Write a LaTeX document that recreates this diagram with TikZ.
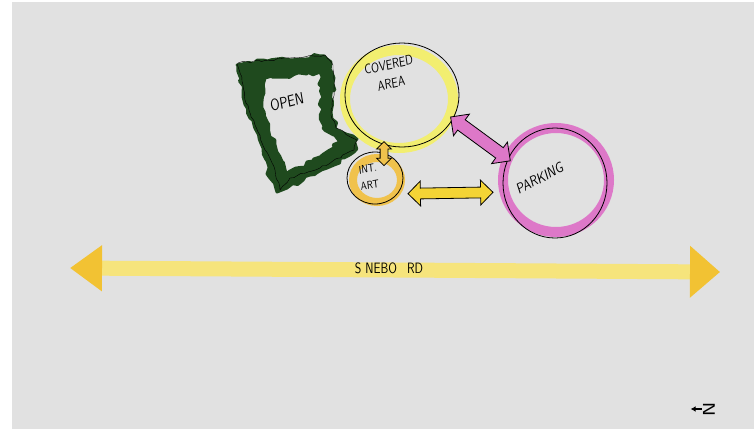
\documentclass[tikz,border=0pt]{standalone}
\usepackage{amsmath}
\usepackage{xcolor}
\usepackage{tikz}
\usetikzlibrary{shapes.geometric, shapes.arrows, arrows.meta, decorations.pathmorphing}
\definecolor{paper}{HTML}{E1E1E1}
\definecolor{opengreen}{HTML}{1F4A1E}
\definecolor{covyellow}{HTML}{F2EE70}
\definecolor{artorange}{HTML}{F0C24C}
\definecolor{parkpink}{HTML}{DD78C8}
\definecolor{roadyellow}{HTML}{F6E47C}
\definecolor{roadhead}{HTML}{F2C233}
\tikzstyle{bubble} = [ellipse, draw=black, thick, inner sep=0pt]
\tikzstyle{handtext} = [font=\sffamily\fontsize{11}{15}\selectfont, transform shape, yscale=1.25, inner sep=1pt]
\tikzstyle{link} = [double arrow, draw=black, thick, inner xsep=0pt, inner ysep=6pt, double arrow head extend=7pt]
\tikzstyle{marker} = [decorate, decoration={random steps, segment length=5pt, amplitude=2.2pt}]

\begin{document}
\begin{tikzpicture}[x=1pt,y=-1pt]
		\begin{scope}[thick]
			
			%Background
			\fill[white] (0,0) rectangle (754,429);
			\fill[paper] (12,2) rectangle (754,429);
			
			% Open space:
			% A green marker band round an irregular plot, with a pen line on top:
			\filldraw[opengreen, line width=3pt, line join=round, even odd rule, marker]
			(237,65) -- (263,60) -- (320,56) -- (331,62) -- (334,78) -- (331,112) -- (337,130) -- (357,139) -- (354,152) -- (327,168) -- (310,175) -- (287,188) -- (277,192) -- (270,178) -- (263,148) -- (250,118) -- (243,92) -- cycle
			(265,78) -- (320,72) -- (321,100) -- (323,128) -- (340,142) -- (313,161) -- (286,174) -- (275,145) -- (262,108) -- cycle;
			\draw[black, thin, decorate, decoration={random steps, segment length=4pt, amplitude=1pt}]
			(238,63) -- (290,58) -- (325,55) -- (333,65) -- (334,90) -- (331,115) -- (336,128) -- (357,140) -- (354,150) -- (320,168) -- (290,178) -- (280,190) -- (275,170) -- (265,150) -- (255,125) -- (245,100) -- (243,85) -- cycle;
			\node[handtext, rotate=12, font=\sffamily\fontsize{13}{15}\selectfont] (open) at (287,102) {OPEN};
			
			% Bubbles:
			% Colour washes first, the pen circles are the nodes
			\draw[covyellow, line width=10pt] (399,99) ellipse [x radius=54pt, y radius=49pt];
			\draw[artorange, line width=8pt] (377,180) ellipse [x radius=24pt, y radius=22pt];
			\draw[parkpink, line width=10pt] (556,180) ellipse [x radius=53pt, y radius=52pt];
			
			\node[bubble, minimum width=114pt, minimum height=104pt] (cov) at (402,95) {};
			\node[bubble, minimum width=56pt, minimum height=52pt] (ia) at (375,178) {};
			\node[bubble, minimum width=104pt, minimum height=110pt] (park) at (555,183) {};
			
			\node[handtext, rotate=10, align=center] (covtxt) at (390,74) {COVERED\\AREA};
			\node[handtext, rotate=8, align=left, font=\sffamily\fontsize{9}{13}\selectfont] (iatxt) at (369,177) {INT.\\ART};
			\node[handtext, rotate=22, font=\sffamily\fontsize{12}{14}\selectfont] (parktxt) at (540,178) {PARKING};
			
			% Links between the bubbles:
			\path (cov.-25) -- (park.153) node[link, midway, sloped, fill=parkpink, minimum height=74pt] (covpark) {};
			\path (ia.-35) -- (park.-170) node[link, midway, sloped, fill=artorange!70!yellow, minimum height=85pt, inner ysep=5pt] (iapark) {};
			\path ([xshift=9pt,yshift=-14pt]ia.north) -- ([xshift=9pt,yshift=10pt]ia.north) node[link, midway, sloped, fill=artorange, minimum height=24pt, inner ysep=3.5pt, double arrow head extend=3.5pt] (iacov) {};
			
			% Road:
			\coordinate (roadW) at (70,268);
			\coordinate (roadE) at (720,272);
			\draw[line width=15pt, roadyellow, {Triangle[length=32pt,width=44pt,color=roadhead]}-{Triangle[length=30pt,width=50pt,color=roadhead]}] (roadW) -- (roadE);
			\node[handtext, font=\sffamily\fontsize{12}{14}\selectfont] (road) at (389,268) {S\hspace{4pt}NEBO\hspace{10pt}RD};
			
			% North arrow:
			\node[handtext, rotate=90, font=\sffamily\fontsize{17}{18}\selectfont] (north) at (709,409) {N};
			\draw[-{Latex[length=5pt,width=6pt]}, line width=1.5pt] (north.north) -- ++(-11,0);
			
		\end{scope}
\end{tikzpicture}
\end{document}
